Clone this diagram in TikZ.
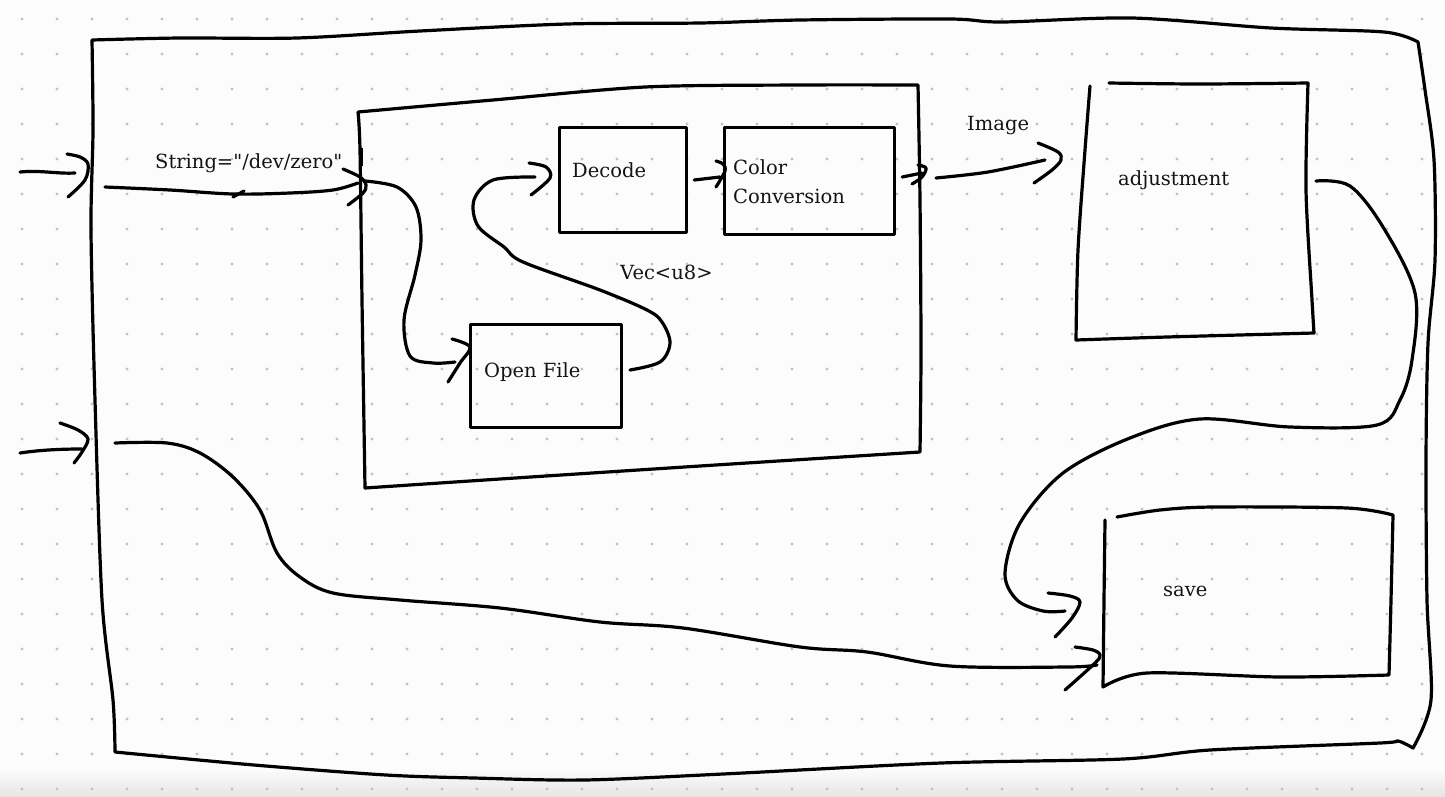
\documentclass[tikz,border=0pt]{standalone}
\usepackage{fontspec}
\setmainfont{DejaVu Serif}[Ligatures=TeXOff]
\begin{document}
\begin{tikzpicture}[x=1pt,y=-1pt,
  ink/.style={line width=3.2pt,line cap=round,line join=round,draw=black},
  box/.style={ink,rectangle,inner sep=0pt,anchor=north west},
  lbl/.style={font=\fontsize{19.5}{24}\selectfont,inner sep=0pt,anchor=base west,text=black!92},
  smoothline/.style={ink,smooth,tension=0.55}]
\useasboundingbox (0,0) rectangle (1445,796);
\fill[black!1] (0,0) rectangle (1445,796);
\shade[top color=black!1,bottom color=black!10] (0,768) rectangle (1445,796);
% dotted grid
\foreach \i in {0,...,40}{\foreach \j in {0,...,22}{\fill[black!24] (22+35*\i,19+35*\j) circle[radius=1.6pt];}}

% outer frame
\draw[ink] plot[smooth,tension=0.5] coordinates {(92,40) (180,38) (297,38) (420,31) (567,24) (700,23) (800,20) (950,19) (1002,22) (1132,18) (1271,28) (1384,32) (1418,42)}
  -- plot[smooth,tension=0.5] coordinates {(1418,42) (1425,90) (1434,160) (1435,260) (1428,343) (1426,460) (1427,600) (1431,700) (1413,748)}
  -- plot[smooth,tension=0.5] coordinates {(1413,748) (1398,741) (1380,743) (1210,750) (1123,759) (941,763) (723,774) (584,780) (474,778) (386,775) (254,765) (115,752)}
  -- plot[smooth,tension=0.5] coordinates {(115,752) (113,700) (102,600) (95,400) (91,230) (93,130) (92,40)};

% inner pipeline box
\draw[ink] plot[smooth,tension=0.5] coordinates {(358,112) (425,106) (493,100) (645,87) (800,85) (918,85)}
  -- plot[smooth,tension=0.5] coordinates {(918,85) (920,200) (921,350) (920,452)}
  -- plot[smooth,tension=0.5] coordinates {(920,452) (700,466) (500,479) (365,488)}
  -- plot[smooth,tension=0.5] coordinates {(365,488) (362,300) (360,150) (358,112)};
\draw[line width=4.2pt] (361,148) -- (361,166);

% adjustment box
\draw[ink] plot[smooth,tension=0.5] coordinates {(1109,83) (1200,84) (1308,83)}
  -- plot[smooth,tension=0.5] coordinates {(1308,83) (1306,190) (1312,300) (1314,333)}
  -- plot[smooth,tension=0.5] coordinates {(1314,333) (1167,337) (1076,340)}
  -- plot[smooth,tension=0.5] coordinates {(1076,340) (1078,250) (1085,150) (1090,86)};

% save box
\draw[ink] plot[smooth,tension=0.5] coordinates {(1117,517) (1160,510) (1213,507) (1347,508) (1393,515)}
  -- plot[smooth,tension=0.5] coordinates {(1393,515) (1391,600) (1389,675)}
  -- plot[smooth,tension=0.5] coordinates {(1389,675) (1280,677) (1147,673) (1103,687)}
  -- plot[smooth,tension=0.5] coordinates {(1103,687) (1104,600) (1105,520)};

% inner boxes
\node[box,minimum width=127pt,minimum height=105pt] (decode) at (558,126) {};
\node[box,minimum width=170pt,minimum height=107pt] (color) at (723,126) {};
\node[box,minimum width=151pt,minimum height=103pt] (open) at (469,323) {};

% labels
\node[lbl] (lstring) at (155,168) {String="/dev/zero"};
\node[lbl] (ldecode) at (572,177) {Decode};
\node[lbl] (lcolorA) at (733,174) {Color};
\node[lbl] (lcolorB) at (733,203) {Conversion};
\node[lbl] (lopen) at (484,377) {Open File};
\node[lbl] (lvec) at (620,279) {Vec<u8>};
\node[lbl] (limage) at (967,130) {Image};
\node[lbl] (ladj) at (1118,185) {adjustment};
\node[lbl] (lsave) at (1163,596) {save};

% input arrow 1
\coordinate (in1) at (20,172);
\coordinate (in1t) at (75,173);
\draw[ink] (in1) .. controls (40,170) and (58,174) .. (in1t);
\draw[smoothline] plot coordinates {(67,154) (80,157) (88,164) (85,180) (68,197)};

% input arrow 2
\coordinate (in2) at (20,453);
\coordinate (in2t) at (82,449);
\draw[ink] (in2) .. controls (40,450) and (60,449) .. (in2t);
\draw[smoothline] plot coordinates {(60,423) (78,430) (88,439) (82,452) (74,463)};

% string line into inner box
\draw[smoothline] plot coordinates {(105,187) (170,190) (233,194) (290,193) (333,190) (358,183)};
\draw[ink] (233,197) -- (244,191);
\draw[smoothline] plot coordinates {(343,169) (360,177) (366,185) (363,193) (348,205)};

% inner -> open file
\draw[smoothline] plot coordinates {(365,181) (397,187) (416,207) (421,240) (415,275) (404,320) (410,356) (433,363) (455,362)};
\draw[smoothline] plot coordinates {(452,339) (470,347) (460,363) (448,382)};

% open file -> decode
\draw[smoothline] plot coordinates {(630,370) (660,362) (670,343) (662,322) (647,310) (600,290) (523,262) (504,247) (478,226) (474,200) (493,180) (535,177)};
\draw[smoothline] plot coordinates {(529,163) (546,167) (550,178) (531,195)};

% decode -> color conversion
\draw[ink] (decode.east |- 0,180) ++(6,0) -- (720,177);
\draw[smoothline] plot coordinates {(716,161) (723,164) (725,171) (716,187)};

% color conversion -> inner box edge
\draw[ink] (color.east |- 0,177) ++(6,0) -- (922,173);
\draw[smoothline] plot coordinates {(918,165) (926,168) (922,177) (912,184)};

% image -> adjustment
\draw[smoothline] plot coordinates {(936,178) (988,172) (1045,160)};
\draw[smoothline] plot coordinates {(1038,143) (1058,152) (1061,160) (1052,170) (1034,183)};

% adjustment -> save
\draw[smoothline] plot coordinates {(1316,181) (1350,186) (1383,227) (1415,293) (1412,360) (1400,400) (1377,425) (1290,427) (1200,419) (1130,438) (1063,473) (1020,523) (1005,573) (1017,600) (1043,611) (1065,611)};
\draw[smoothline] plot coordinates {(1048,593) (1070,596) (1080,602) (1072,618) (1055,637)};

% lower input -> save
\draw[smoothline] plot coordinates {(115,443) (167,443) (200,453) (233,477) (260,510) (277,553) (300,577) (333,593) (400,600) (500,608) (600,622) (683,628) (800,647) (867,652) (950,666) (1067,667) (1097,665)};
\draw[smoothline] plot coordinates {(1075,647) (1093,650) (1100,655) (1095,663) (1065,690)};
\end{tikzpicture}
\end{document}
